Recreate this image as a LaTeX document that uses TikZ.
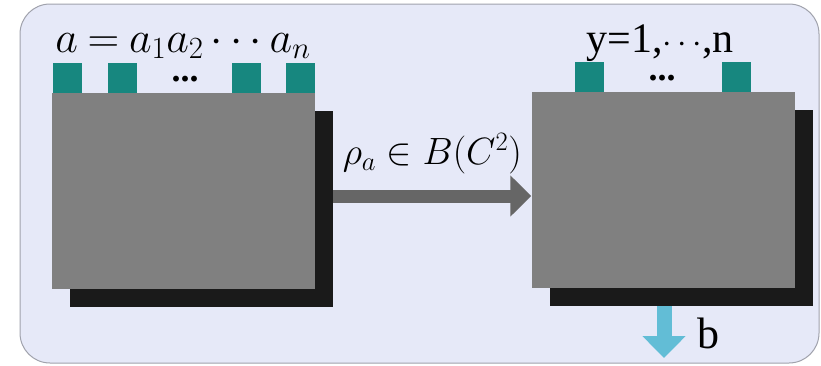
\RequirePackage{fix-cm}
\documentclass[tikz,border=0pt]{standalone}
\usepackage{fontspec}
\setmainfont{Liberation Serif}
\usepackage{tikz}
\usetikzlibrary{arrows.meta,positioning}
\definecolor{qcLav}{HTML}{E6E9F8}
\definecolor{qcFrame}{HTML}{A0A2AC}
\definecolor{qcGray}{HTML}{808080}
\definecolor{qcShadow}{HTML}{1A1A1A}
\definecolor{qcTeal}{HTML}{17877F}
\definecolor{qcArrow}{HTML}{666666}
\definecolor{qcSky}{HTML}{62BDD6}
\tikzset{
  chip/.style={fill=qcGray, minimum width=263pt, minimum height=196pt, inner sep=0pt},
  chipshadow/.style={fill=qcShadow, minimum width=263pt, minimum height=196pt, inner sep=0pt},
  port/.style={fill=qcTeal, minimum width=29pt, minimum height=30pt, inner sep=0pt, anchor=south},
  portdots/.style={font=\fontsize{36}{40}\selectfont\bfseries, inner sep=0pt, text height=5pt, text depth=0pt, anchor=base}
}

\begin{document}
\begin{tikzpicture}[x=1pt, y=-1pt]
  \useasboundingbox (0,0) rectangle (821,365);
  \node[draw=qcFrame, fill=qcLav, line width=1pt, rounded corners=30pt, minimum width=799pt, minimum height=359pt] (frame) at (419.5,183.5) {};
  % sender
  \node[chipshadow] (lsh) at (201.5,209) {};
  \node[chip] (lbox) at (183.5,191) {};
  \node[port] (la1) at (67,93) {};
  \node[port] (la2) at (122.5,93) {};
  \node[port] (la3) at (246,93) {};
  \node[port] (la4) at (300.5,93) {};
  \node[portdots] (ldots) at (185,81) {...};
  \node[font=\fontsize{44}{50}\selectfont, anchor=base, inner sep=0pt, text depth=6pt] (ain) at (183,52) {\thickmuskip=4mu $a=a_1a_2\cdots a_n$};
  % receiver
  \node[chipshadow] (rsh) at (681,208) {};
  \node[chip] (rbox) at (663,190) {};
  \node[port] (ry1) at (589.5,92) {};
  \node[port] (ry2) at (736,92) {};
  \node[portdots] (rdots) at (662,80) {...};
  \node[font=\fontsize{42}{48}\selectfont, anchor=base, inner sep=0pt, text depth=6pt] (yin) at (660,52) {y=1,{\fontsize{34}{38}\selectfont$\cdotp\cdotp\cdotp$},n};
  % channel
  \draw[qcArrow, line width=13pt, -{Triangle[width=40pt,length=21pt]}] ([yshift=13pt]lsh.east) -- ([yshift=-6pt]rbox.west)
    node[midway, above=12pt, text=black, font=\fontsize{38}{44}\selectfont] (rho) {$\rho_a\in B(C^2)$};
  % output
  \coordinate (bout) at (664,358);
  \draw[qcSky, line width=15pt, -{Triangle[width=42pt,length=22pt]}] ([xshift=-17pt]rsh.south) -- (bout);
  \node[font=\fontsize{44}{50}\selectfont, anchor=base west] (bval) at (694,348) {b};
\end{tikzpicture}
\end{document}
